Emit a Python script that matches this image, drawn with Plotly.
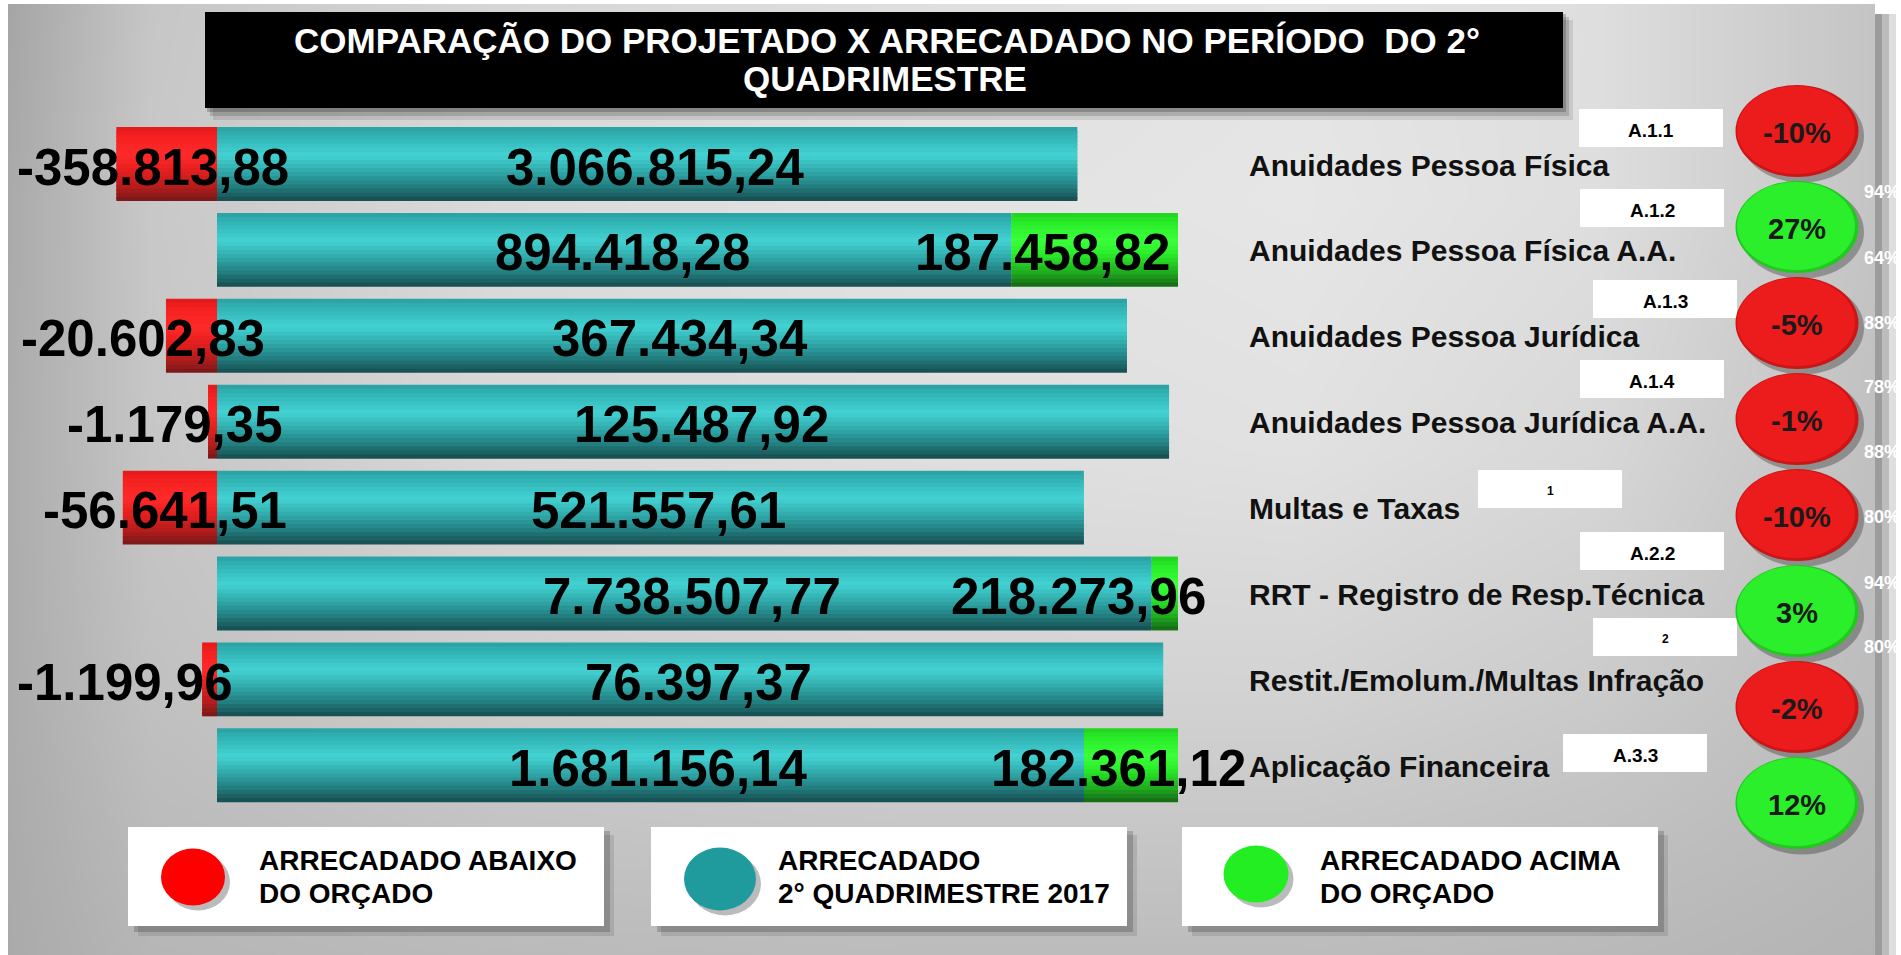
import plotly.graph_objects as go

# ---- data (R$) ----
CATEGORIES = [
    "Anuidades Pessoa Física",
    "Anuidades Pessoa Física A.A.",
    "Anuidades Pessoa Jurídica",
    "Anuidades Pessoa Jurídica A.A.",
    "Multas e Taxas",
    "RRT - Registro de Resp.Técnica",
    "Restit./Emolum./Multas Infração",
    "Aplicação Financeira",
]
CODES = ["A.1.1", "A.1.2", "A.1.3", "A.1.4", "1", "A.2.2", "2", "A.3.3"]
ARRECADADO = [3066815.24, 894418.28, 367434.34, 125487.92,
              521557.61, 7738507.77, 76397.37, 1681156.14]
DIFERENCA = [-358813.88, 187458.82, -20602.83, -1179.35,
             -56641.51, 218273.96, -1199.96, 182361.12]
SIDE_PCT = ["94%", "64%", "88%", "78%", "88%", "80%", "94%", "80%"]
TITLE_LINES = ["COMPARAÇÃO DO PROJETADO X ARRECADADO NO PERÍODO\u00a0\u00a0DO 2°", "QUADRIMESTRE"]
LEGEND_TEXT = [["ARRECADADO ABAIXO", "DO ORÇADO"],
               ["ARRECADADO", "2° QUADRIMESTRE 2017"],
               ["ARRECADADO ACIMA", "DO ORÇADO"]]

# ---- style ----
FONT = "Liberation Sans, Arial, sans-serif"
W, H_FIG = 1901, 955
ZERO_PX, FULL_PX = 217, 961          # bar axis: 0 -> 217px, 100% -> 961px long
ROW0_PX, ROW_STEP = 164, 85.9        # bar rows
CIRC0_PX, CIRC_STEP = 131, 96.0      # circles column
BAR_H = 0.86
N_SLICES = 18
LABEL_XSHIFT = [74, -6, 50, 68, 72, 30, 18, 70]
CODE_POS = [(1651, 128), (1652, 208), (1665, 299), (1652, 379),
            (1550, 489), (1652, 551), (1665, 637), (1635, 753)]
SIDE_PCT_Y = [192, 258, 323, 387, 452, 517, 583, 647]
CIRC_X = 1797

PROFILE = {
    "teal": [(0, "#2b9fa1"), (0.12, "#31b3b5"), (0.38, "#43d2d2"), (0.55, "#34b3b4"),
             (0.8, "#237f81"), (1, "#174b4d")],
    "red": [(0, "#e01a1a"), (0.12, "#f42020"), (0.38, "#ff2a2a"), (0.55, "#ec2020"),
            (0.8, "#b81c1c"), (1, "#761818")],
    "green": [(0, "#20d020"), (0.12, "#28ec28"), (0.38, "#3aff3a"), (0.55, "#2aee2a"),
              (0.8, "#1fae1f"), (1, "#146614")],
}

BG_X = [8, 150, 500, 900, 1300, 1600, 1875]
BG_Y = [4, 200, 450, 700, 955]
BG_Z = [[165, 198, 214, 222, 228, 222, 196],
        [170, 200, 218, 226, 230, 222, 196],
        [172, 198, 216, 222, 225, 215, 192],
        [172, 192, 205, 210, 210, 202, 188],
        [170, 182, 186, 188, 188, 185, 180]]


def br(v):
    s = f"{abs(v):,.2f}".replace(",", "X").replace(".", ",").replace("X", ".")
    return ("-" if v < 0 else "") + s


def hex2rgb(h):
    return [int(h[i:i + 2], 16) for i in (1, 3, 5)]


def shade(kind, t):
    stops = PROFILE[kind]
    for (t0, c0), (t1, c1) in zip(stops, stops[1:]):
        if t0 <= t <= t1:
            f = (t - t0) / (t1 - t0)
            a, b = hex2rgb(c0), hex2rgb(c1)
            return "rgb(%d,%d,%d)" % tuple(round(a[i] + (b[i] - a[i]) * f) for i in range(3))
    return stops[-1][1]


n = len(CATEGORIES)
rows = list(range(n))
total = [a + abs(d) for a, d in zip(ARRECADADO, DIFERENCA)]
teal_len = [a / t for a, t in zip(ARRECADADO, total)]
diff_len = [abs(d) / t for d, t in zip(DIFERENCA, total)]
diff_base = [-dl if d < 0 else tl for d, dl, tl in zip(DIFERENCA, diff_len, teal_len)]
pct_lbl = [f"{round(d / (a - d) * 100)}%" for a, d in zip(ARRECADADO, DIFERENCA)]

seg_y = rows + rows
seg_len = teal_len + diff_len
seg_base = [0] * n + diff_base
seg_kind = ["teal"] * n + ["red" if d < 0 else "green" for d in DIFERENCA]
seg_hover = [f"{c}<br>Arrecadado: {br(a)}" for c, a in zip(CATEGORIES, ARRECADADO)] + \
            [f"{c}<br>Diferença: {br(d)}" for c, d in zip(CATEGORIES, DIFERENCA)]

fig = go.Figure()

# background gradient panel
fig.add_trace(go.Heatmap(
    x=BG_X, y=BG_Y, z=BG_Z, zmin=0, zmax=255, zsmooth="best",
    colorscale=[[0, "#000000"], [1, "#ffffff"]], showscale=False,
    hoverinfo="skip", xaxis="x", yaxis="y",
))

# cylinder-shaded bars: stacked thin slices, top to bottom
for k in range(N_SLICES):
    t = (k + 0.5) / N_SLICES
    off = -BAR_H / 2 + k * BAR_H / N_SLICES
    w = min(BAR_H / N_SLICES * 1.7, BAR_H / 2 - off)
    fig.add_trace(go.Bar(
        orientation="h", y=seg_y, x=seg_len, base=seg_base,
        offset=off, width=w,
        marker=dict(color=[shade(kd, t) for kd in seg_kind], line=dict(width=0)),
        hovertext=seg_hover, hoverinfo="text" if k == N_SLICES // 2 else "skip",
        xaxis="x2", yaxis="y2", showlegend=False,
    ))

fig.add_trace(go.Scatter(
    x=[CIRC_X] * n, y=rows, mode="markers", marker=dict(size=1, opacity=0),
    text=pct_lbl, hoverinfo="text", xaxis="x", yaxis="y3", showlegend=False,
))

shapes = []


def rect(x0, y0, x1, y1, color, xref="x", yref="y"):
    shapes.append(dict(type="rect", xref=xref, yref=yref, x0=x0, y0=y0, x1=x1, y1=y1,
                       fillcolor=color, line=dict(width=0), layer="above"))


def ellipse(cx, cy, w, h, color, yref="y", dx=0, dy=0):
    if yref == "y":
        shapes.append(dict(type="circle", xref="x", yref="y", x0=cx - w / 2 + dx, x1=cx + w / 2 + dx,
                           y0=cy - h / 2 + dy, y1=cy + h / 2 + dy,
                           fillcolor=color, line=dict(width=0), layer="above"))
    else:
        shapes.append(dict(type="circle", xref="x", yref=yref, xsizemode="pixel", ysizemode="pixel",
                           xanchor=cx, yanchor=cy, x0=-w / 2 + dx, x1=w / 2 + dx,
                           y0=-h / 2 - dy, y1=h / 2 - dy,
                           fillcolor=color, line=dict(width=0), layer="above"))


# white page margins and right-edge shadow
rect(-5, -5, 8, 960, "#ffffff")
rect(-5, -5, 1910, 4, "#ffffff")
rect(1875, 4, 1910, 960, "#ffffff")
rect(1875, 14, 1882, 960, "#9c9c9c")
rect(1882, 14, 1889, 960, "#bcbcbc")
rect(1889, 14, 1896, 960, "#dedede")

# title box with shadow
rect(213, 20, 1573, 120, "rgba(0,0,0,0.10)")
rect(210, 17, 1569, 116, "rgba(0,0,0,0.15)")
rect(207, 14, 1566, 112, "rgba(0,0,0,0.20)")
rect(205, 12, 1563, 108, "#000000")

# code boxes
for (cx, cy) in CODE_POS:
    rect(cx - 72, cy - 19, cx + 72, cy + 19, "#ffffff")

# circles
for i, p in enumerate(DIFERENCA):
    rim, fill = ("#cc1616", "#ec1c1c") if p < 0 else ("#20c820", "#2cef2c")
    ellipse(CIRC_X, i, 124, 93, "rgba(40,40,40,0.35)", yref="y3", dx=5, dy=5)
    ellipse(CIRC_X, i, 123, 92, rim, yref="y3")
    ellipse(CIRC_X, i, 118, 88, fill, yref="y3", dx=-1, dy=-1)

# legend boxes
LEG_BOX = [(128, 604), (651, 1127), (1182, 1658)]
LEG_DOT = [((193, 877), 64, 57, "#ff0000"), ((720, 879), 72, 63, "#1f9b9d"), ((1256, 874), 65, 57, "#22ee22")]
for (x0, x1), ((cx, cy), dw, dh, col) in zip(LEG_BOX, LEG_DOT):
    rect(x0 + 10, 835, x1 + 10, 936, "rgba(0,0,0,0.10)")
    rect(x0 + 6, 831, x1 + 6, 932, "rgba(0,0,0,0.18)")
    rect(x0, 827, x1, 926, "#ffffff")
    ellipse(cx, cy, dw, dh, "rgba(60,60,60,0.35)", dx=5, dy=5)
    ellipse(cx, cy, dw, dh, col)

ann = []


def txt(x, y, s, size, color="#000000", xref="x", yref="y", xanchor="center", xshift=0, yshift=0):
    ann.append(dict(x=x, y=y, xref=xref, yref=yref, text=f"<b>{s}</b>", showarrow=False,
                    xanchor=xanchor, yanchor="middle", xshift=xshift, yshift=yshift,
                    font=dict(family=FONT, size=size, color=color)))


txt(887, 40, TITLE_LINES[0], 35, "#ffffff")
txt(885, 78, TITLE_LINES[1], 35, "#ffffff")

for i in rows:
    txt(teal_len[i] / 2, i, br(ARRECADADO[i]), 51, xref="x2", yref="y2", xshift=8, yshift=-3)
    anchor_x = 0 if DIFERENCA[i] < 0 else 1
    txt(anchor_x, i, br(DIFERENCA[i]), 51, xref="x2", yref="y2", xanchor="right",
        xshift=LABEL_XSHIFT[i], yshift=-3)
    txt(1247, i, CATEGORIES[i], 30, "#111111", yref="y2", xanchor="left", yshift=-1)
    cx, cy = CODE_POS[i]
    txt(cx, cy, CODES[i], 19 if len(CODES[i]) > 1 else 12, yshift=-2)
    txt(CIRC_X, i, pct_lbl[i], 29, "#1a1a1a", yref="y3", yshift=-2)
    txt(1862, SIDE_PCT_Y[i], SIDE_PCT[i], 18, "#ffffff", xanchor="left")

for x, lines in zip([257, 776, 1318], LEGEND_TEXT):
    txt(x, 860, lines[0], 28, xanchor="left")
    txt(x, 893, lines[1], 28, xanchor="left")

fig.update_layout(
    width=W, height=H_FIG, margin=dict(l=0, r=0, t=0, b=0, pad=0),
    paper_bgcolor="#ffffff", plot_bgcolor="rgba(0,0,0,0)",
    barmode="overlay", showlegend=False,
    font=dict(family=FONT),
    xaxis=dict(range=[0, W], visible=False, domain=[0, 1], fixedrange=True),
    yaxis=dict(range=[H_FIG, 0], visible=False, domain=[0, 1], fixedrange=True),
    xaxis2=dict(range=[-ZERO_PX / FULL_PX, (W - ZERO_PX) / FULL_PX], visible=False,
                overlaying="x", anchor="y2", fixedrange=True),
    yaxis2=dict(range=[(H_FIG - ROW0_PX) / ROW_STEP, -ROW0_PX / ROW_STEP], visible=False,
                overlaying="y", anchor="x2", fixedrange=True),
    yaxis3=dict(range=[(H_FIG - CIRC0_PX) / CIRC_STEP, -CIRC0_PX / CIRC_STEP], visible=False,
                overlaying="y", anchor="x", fixedrange=True),
    shapes=shapes, annotations=ann,
)

fig.write_html("out.html", config={"displayModeBar": False},
               post_script="document.body.style.margin='0';")
